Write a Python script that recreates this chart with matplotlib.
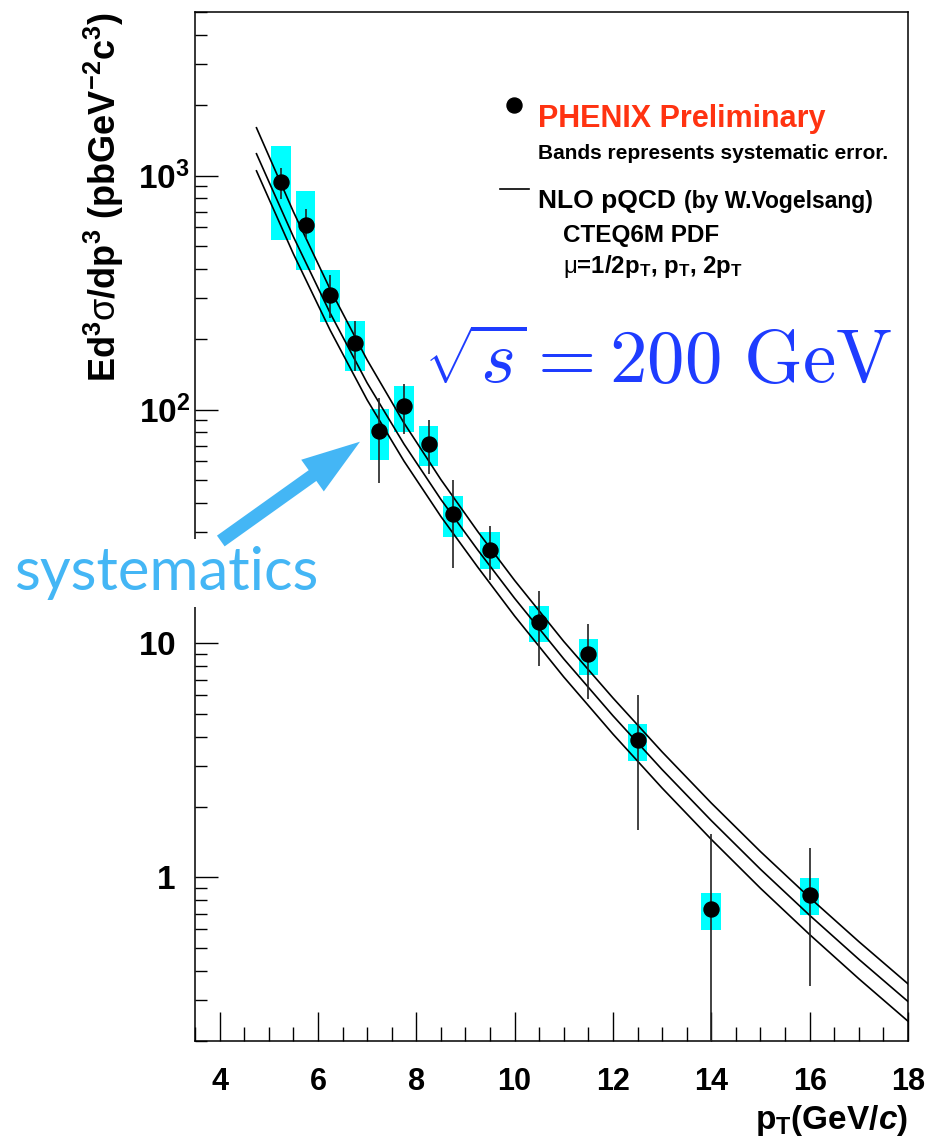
import numpy as np
import matplotlib
matplotlib.use("Agg")
import matplotlib.pyplot as plt
from matplotlib.lines import Line2D
from matplotlib.ticker import MultipleLocator, LogLocator, NullFormatter
from matplotlib.transforms import ScaledTranslation

# ---------------- data ----------------
pt = np.array([5.25, 5.75, 6.25, 6.75, 7.25, 7.75, 8.25, 8.75, 9.5, 10.5, 11.5, 12.5, 14.0, 16.0])
cross_section = np.array([935, 614, 309, 193, 80.8, 104, 71.3, 35.6, 25.2, 12.3, 9.03, 3.85, 0.730, 0.838])
stat_high = np.array([1079, 716, 377, 238, 112, 129, 89.8, 50.1, 31.9, 16.7, 12.1, 6.05, 1.53, 1.34])
stat_low = np.array([795, 538, 245, 146, 48.6, 78.7, 53.1, 21.0, 18.6, 8.05, 5.77, 1.60, 0.0, 0.343])
sys_high = np.array([1343, 857, 396, 240, 101, 126, 85.4, 42.5, 29.9, 14.5, 10.5, 4.51, 0.857, 0.990])
sys_low = np.array([531, 395, 237, 146, 60.6, 80.5, 57.3, 28.5, 20.9, 10.1, 7.30, 3.14, 0.598, 0.688])
sys_width = 0.4

pt_theory = [4.75, 5.5, 6.25, 7, 7.75, 8.5, 9.25, 10, 11, 12, 13, 14, 15, 16, 17, 18]
nlo_mu_half = [1600, 701, 326, 163, 87.6, 50.2, 30.1, 18.6, 10.2, 5.85, 3.44, 2.08, 1.29, 0.820, 0.532, 0.351]
nlo_mu_one = [1239, 548, 258, 130, 71.2, 41.3, 25.1, 15.6, 8.59, 4.91, 2.89, 1.75, 1.084, 0.689, 0.447, 0.295]
nlo_mu_two = [1047, 463, 218, 110, 60.2, 34.9, 21.2, 13.1, 7.19, 4.10, 2.41, 1.454, 0.899, 0.570, 0.369, 0.243]

y_ticks = [1, 10, 100, 1000]
y_tick_labels = [r'$\mathbf{1}$', r'$\mathbf{10}$', r'$\mathbf{10^{2}}$', r'$\mathbf{10^{3}}$']
x_ticks = [4, 6, 8, 10, 12, 14, 16, 18]

# ---------------- style ----------------
plt.rcParams['font.family'] = ['Liberation Sans', 'DejaVu Sans']
plt.rcParams['font.weight'] = 'bold'
plt.rcParams['axes.labelweight'] = 'bold'
plt.rcParams['mathtext.fontset'] = 'custom'
plt.rcParams['mathtext.rm'] = 'Liberation Sans:bold'
plt.rcParams['mathtext.bf'] = 'Liberation Sans:bold'
plt.rcParams['mathtext.it'] = 'Liberation Sans:italic:bold'
plt.rcParams['mathtext.sf'] = 'Liberation Sans:weight=normal:style=normal'

W, H = 930, 1140
fig = plt.figure(figsize=(W / 100, H / 100), dpi=100)
L, R, T, B = 195, 908, 12, 1041
ax = fig.add_axes([L / W, (H - B) / H, (R - L) / W, (B - T) / H])

def axx(px):
    return (px - L) / (R - L)

def axy(py):
    return (B - py) / (B - T)

ax.set_yscale('log')
ax.set_xlim(3.5, 18)
ax.set_ylim(0.2, 5000)

# systematic bands
ax.bar(pt, sys_high - sys_low, bottom=sys_low, width=sys_width,
       color='#00ffff', linewidth=0, zorder=1)

# theory curves
for curve in (nlo_mu_half, nlo_mu_one, nlo_mu_two):
    ax.plot(pt_theory, curve, color='black', lw=1.2, zorder=3)

# data points with statistical errors
ax.errorbar(pt, cross_section, yerr=[cross_section - stat_low, stat_high - cross_section],
            fmt='o', ms=10.8, color='black', ecolor='#222222', elinewidth=1.2,
            capsize=0, zorder=4)

# ---------------- axes styling ----------------
for s in ax.spines.values():
    s.set_linewidth(1.1)
ax.set_yticks(y_ticks, y_tick_labels)
ax.yaxis.set_minor_locator(LogLocator(base=10, subs=np.arange(2, 10)))
ax.yaxis.set_minor_formatter(NullFormatter())
ax.set_xticks(x_ticks, [str(v) for v in x_ticks])
ax.xaxis.set_minor_locator(MultipleLocator(0.5))
ax.tick_params(axis='both', which='both', direction='in', top=False, right=False, width=1.0)
ax.tick_params(axis='y', which='major', length=16.6, labelsize=24, pad=3.6)
ax.tick_params(axis='y', which='minor', length=8.6)
ax.tick_params(axis='x', which='major', length=20.9, labelsize=22, pad=18.5)
ax.tick_params(axis='x', which='minor', length=10)

# ROOT style: the "10" of every label lines up, exponents stick out to the right
for tick in ax.yaxis.get_major_ticks()[:2]:
    tick.label1.set_transform(tick.label1.get_transform()
                              + ScaledTranslation(-0.14, 0, fig.dpi_scale_trans))

ax.set_xlabel(r'$\mathbf{p_{T}(GeV/}\mathit{c}\mathbf{)}$', fontsize=24, loc='right')
ax.xaxis.set_label_coords(1.0, -0.060)
ax.set_ylabel(r'Ed$^{\mathbf{3}}\mathsf{\sigma}$/dp$^{\mathbf{3}}$ (pbGeV$^{\mathbf{-2}}$c$^{\mathbf{3}}$)',
              fontsize=26, loc='top', fontweight='bold')
ax.yaxis.set_label_coords(-0.0968, 1.0)

# ---------------- legend symbols ----------------
h_pt = Line2D([], [], marker='o', ls='none', color='black', ms=10.8)
h_th = Line2D([], [], color='black', lw=1.2)
ax.legend([h_pt, h_th], ['', ''], loc='upper left',
          bbox_to_anchor=(axx(500), axy(98.65)), bbox_transform=ax.transAxes,
          frameon=False, borderpad=0, borderaxespad=0, handletextpad=0,
          handlelength=29 / 13.9, fontsize=10, labelspacing=5.05, numpoints=1)

# ---------------- legend texts ----------------
ax.text(axx(538), axy(126.7), 'PHENIX Preliminary', color='#ff3311', fontsize=22,
        transform=ax.transAxes, va='baseline')
ax.text(axx(538), axy(159), 'Bands represents systematic error.', fontsize=15,
        transform=ax.transAxes, va='baseline')
ax.text(axx(538), axy(207.7), 'NLO pQCD', fontsize=19,
        transform=ax.transAxes, va='baseline')
ax.text(axx(684), axy(207.7), '(by W.Vogelsang)', fontsize=16.5,
        transform=ax.transAxes, va='baseline')
ax.text(axx(563.3), axy(241.7), 'CTEQ6M PDF', fontsize=17.5,
        transform=ax.transAxes, va='baseline')
ax.text(axx(563.3), axy(273.3),
        r'$\mathsf{\mu}$=1/2p$_{\mathbf{T}}$, p$_{\mathbf{T}}$, 2p$_{\mathbf{T}}$',
        fontsize=17.3, transform=ax.transAxes, va='baseline')

# sqrt(s) annotation
ax.text(axx(424), axy(382.7), r'$\sqrt{s} = 200\ \mathrm{GeV}$', math_fontfamily='cm',
        fontsize=54, color='#1e3cff', transform=ax.transAxes, va='baseline',
        fontweight='normal')

# "systematics" callout
ax.text(axx(14), axy(590), 'systematics', fontfamily='Lato', fontweight='normal',
        fontsize=43, color='#44b6f5', transform=ax.transAxes, va='baseline',
        bbox=dict(facecolor='white', edgecolor='none', pad=5), zorder=6, clip_on=False)
ax.annotate('', xy=(360, H - 441.7), xycoords='figure pixels',
            xytext=(220.8, H - 541), textcoords='figure pixels',
            arrowprops=dict(arrowstyle='simple,head_length=42,head_width=28,tail_width=9.5',
                            mutation_scale=1, color='#44b6f5', shrinkA=0, shrinkB=0, lw=0),
            zorder=6)

fig.savefig('out.png', dpi=100, facecolor='white')
